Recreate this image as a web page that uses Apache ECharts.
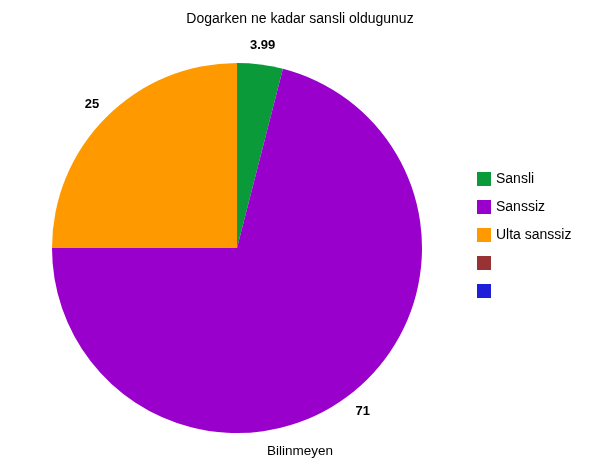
<!DOCTYPE html>
<html>
<head>
<meta charset="utf-8">
<script src="https://cdn.jsdelivr.net/npm/echarts@6/dist/echarts.min.js"></script>
<style>
  html, body { margin: 0; padding: 0; background: #fff; }
  #chart { width: 600px; height: 463px; }
</style>
</head>
<body>
<div id="chart"></div>
<script>
  // slices, clockwise from 12 o'clock
  const names = ['Sansli', 'Sanssiz', 'Ulta sanssiz', ' ', '  '];
  const values = [3.99, 71, 25, 0, 0];
  const colors = ['#0a9a3a', '#9900cc', '#ff9900', '#993333', '#1f1fd9'];

  let chartDom = document.getElementById('chart');
  let myChart = echarts.init(chartDom);
  let option;

  const font = 'Arial, "Liberation Sans", sans-serif';

  option = {
    animation: false,
    title: [
      {
        text: 'Dogarken ne kadar sansli oldugunuz',
        left: 'center',
        top: 7,
        textStyle: { fontFamily: font, fontSize: 14, fontWeight: 'normal', color: '#000' }
      },
      {
        text: 'Bilinmeyen',
        left: 'center',
        top: 439,
        textStyle: { fontFamily: font, fontSize: 13.5, fontWeight: 'normal', color: '#000' }
      }
    ],
    legend: {
      orient: 'vertical',
      left: 477,
      top: 172,
      padding: 0,
      itemWidth: 14,
      itemHeight: 14,
      itemGap: 14,
      icon: 'rect',
      data: names,
      textStyle: { fontFamily: font, fontSize: 14, color: '#000' }
    },
    series: [
      {
        type: 'pie',
        center: [237, 248],
        radius: 185,
        startAngle: 90,
        clockwise: true,
        label: { show: false },
        labelLine: { show: false },
        emphasis: { disabled: true },
        data: names.map(function (n, i) {
          return { name: n, value: values[i], itemStyle: { color: colors[i] } };
        })
      },
      {
        // transparent ring that only carries the value labels just outside the pie
        type: 'pie',
        center: [237, 249],
        radius: [192, 212],
        startAngle: 90,
        clockwise: true,
        silent: true,
        itemStyle: { color: 'rgba(0,0,0,0)' },
        label: {
          show: true,
          position: 'inside',
          fontFamily: font,
          fontSize: 13,
          fontWeight: 'bold',
          color: '#000',
          formatter: '{c}'
        },
        labelLine: { show: false },
        emphasis: { disabled: true },
        data: names.map(function (n, i) {
          return { name: n, value: values[i], label: { show: values[i] > 0 } };
        })
      }
    ]
  };

  option && myChart.setOption(option);
</script>
</body>
</html>
